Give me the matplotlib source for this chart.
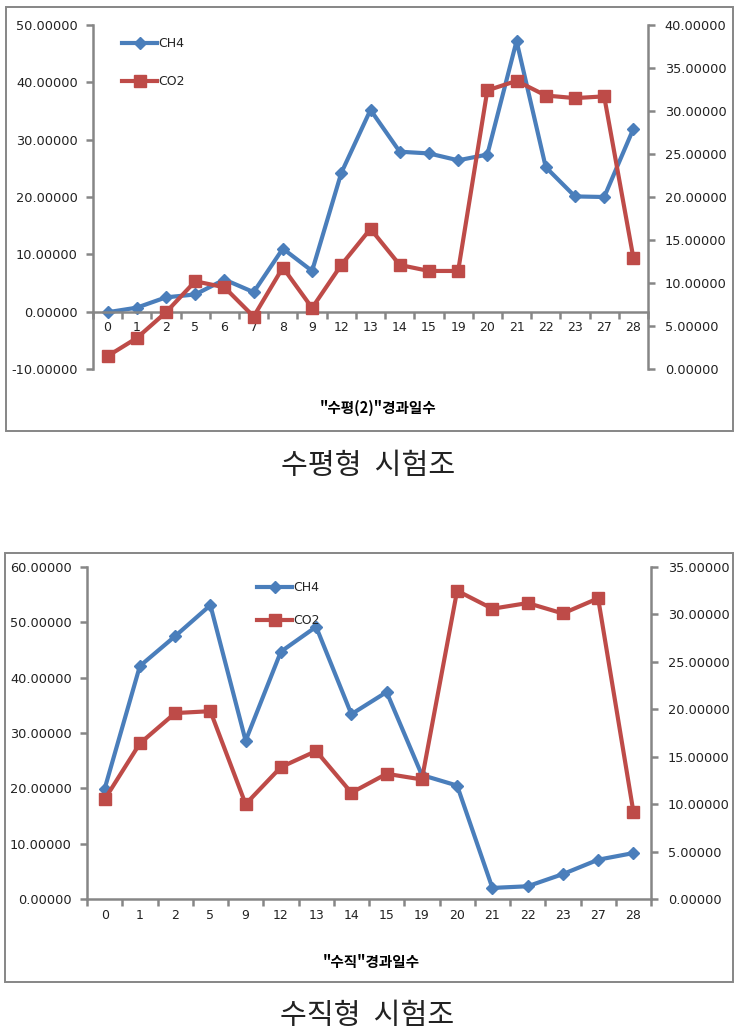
import numpy as np
import matplotlib
matplotlib.use('Agg')
import matplotlib.pyplot as plt
from matplotlib.patches import Rectangle
from matplotlib.ticker import FormatStrFormatter

plt.rcParams['font.family'] = ['DejaVu Sans', 'Noto Sans CJK KR']
plt.rcParams['axes.unicode_minus'] = False

# 수평형 시험조 (horizontal tank)
days_h = ['0', '1', '2', '5', '6', '7', '8', '9', '12', '13', '14', '15',
          '19', '20', '21', '22', '23', '27', '28']
ch4_h = [-0.1, 0.7, 2.5, 3.0, 5.6, 3.4, 11.0, 7.1, 24.2, 35.2, 27.9, 27.6,
         26.4, 27.4, 47.2, 25.2, 20.1, 20.0, 31.9]
co2_h = [1.5, 3.6, 6.6, 10.2, 9.5, 6.1, 11.8, 7.1, 12.1, 16.3, 12.1, 11.4,
         11.4, 32.4, 33.5, 31.8, 31.5, 31.7, 12.9]

# 수직형 시험조 (vertical tank)
days_v = ['0', '1', '2', '5', '9', '12', '13', '14', '15', '19', '20', '21',
          '22', '23', '27', '28']
ch4_v = [19.9, 42.1, 47.5, 53.1, 28.6, 44.7, 49.2, 33.4, 37.4, 22.4, 20.5,
         2.0, 2.3, 4.5, 7.1, 8.3]
co2_v = [10.5, 16.4, 19.6, 19.8, 10.0, 13.9, 15.6, 11.2, 13.2, 12.6, 32.5,
         30.6, 31.2, 30.1, 31.7, 9.2]

W, H = 747, 1035
BLUE = '#4A7EBB'
RED = '#BE4B48'
GRAY = '#868686'
KR = ['Noto Sans CJK KR', 'DejaVu Sans']

fig = plt.figure(figsize=(W / 100, H / 100), dpi=100)


def fx(px):
    return px / W


def fy(py):
    return 1 - py / H


def panel(box, frame, days, ch4, co2, left_ticks, right_ticks, zero_axis,
          xlabel, xlabel_pos, caption, caption_pos, leg_pos, leg_space):
    x0, y0, x1, y1 = box
    ax = fig.add_axes([fx(x0), fy(y1), fx(x1 - x0), (y1 - y0) / H])
    ax2 = ax.twinx()
    n = len(days)
    x = np.arange(n)

    l1, = ax.plot(x, ch4, color=BLUE, lw=3.0, marker='D', ms=6.5,
                  label='CH4', solid_joinstyle='round')
    l2, = ax2.plot(x, co2, color=RED, lw=3.0, marker='s', ms=9,
                   label='CO2', solid_joinstyle='round')

    ax.set_xlim(-0.5, n - 0.5)
    ax.set_ylim(left_ticks[0], left_ticks[-1])
    ax2.set_ylim(right_ticks[0], right_ticks[-1])
    ax.set_yticks(left_ticks)
    ax2.set_yticks(right_ticks)
    ax.yaxis.set_major_formatter(FormatStrFormatter('%.5f'))
    ax2.yaxis.set_major_formatter(FormatStrFormatter('%.5f'))

    ax.set_xticks(x)
    ax.set_xticklabels(days)
    ax.set_xticks(np.arange(n + 1) - 0.5, minor=True)
    ax.tick_params(axis='x', which='major', length=0, pad=7, labelsize=9,
                   labelcolor='#222222')
    ax.tick_params(axis='x', which='minor', length=5, width=1.8,
                   direction='out', color=GRAY)
    ax.tick_params(axis='y', length=5, width=1.8, color=GRAY, pad=6,
                   labelsize=9.3, labelcolor='#222222')
    ax2.tick_params(axis='y', length=5, width=1.8, color=GRAY, pad=7,
                    labelsize=9.3, labelcolor='#222222')

    for s in ['top', 'right']:
        ax.spines[s].set_visible(False)
    for s in ['top', 'left', 'bottom']:
        ax2.spines[s].set_visible(False)
    for s in [ax.spines['left'], ax.spines['bottom'], ax2.spines['right']]:
        s.set_color(GRAY)
        s.set_linewidth(1.8)
    if zero_axis:
        ax.spines['bottom'].set_position(('data', 0))

    leg = ax2.legend(handles=[l1, l2], loc='upper left',
                     bbox_to_anchor=(fx(leg_pos[0]), fy(leg_pos[1])),
                     bbox_transform=fig.transFigure, frameon=False,
                     fontsize=9, handlelength=2.8, handletextpad=0.1,
                     labelspacing=leg_space, borderpad=0, borderaxespad=0)
    for t in leg.get_texts():
        t.set_color('#222222')

    fig.text(fx(xlabel_pos[0]), fy(xlabel_pos[1]), xlabel, family=KR,
             fontsize=10.5, fontweight='bold', ha='center', va='center')
    fig.text(fx(caption_pos[0]), fy(caption_pos[1]), caption, family=KR,
             fontsize=21, fontweight='light', ha='center', va='center',
             color='#222222')

    fx0, fy0, fx1, fy1 = frame
    fig.patches.append(Rectangle((fx(fx0), fy(fy1)), fx(fx1 - fx0),
                                 (fy1 - fy0) / H, transform=fig.transFigure,
                                 fill=False, edgecolor=GRAY, lw=1.4))


panel((93, 25, 648, 369), (6, 7, 733, 431), days_h, ch4_h, co2_h,
      [-10, 0, 10, 20, 30, 40, 50], [0, 5, 10, 15, 20, 25, 30, 35, 40],
      True, '"수평(2)"경과일수', (378, 408), '수평형  시험조', (368, 466),
      (122, 37), 2.0)

panel((87, 567, 651, 899), (5, 553, 733, 982), days_v, ch4_v, co2_v,
      [0, 10, 20, 30, 40, 50, 60], [0, 5, 10, 15, 20, 25, 30, 35],
      False, '"수직"경과일수', (371, 962), '수직형  시험조', (367, 1016),
      (257, 581), 1.6)

fig.savefig('out.png', dpi=100, facecolor='white')
